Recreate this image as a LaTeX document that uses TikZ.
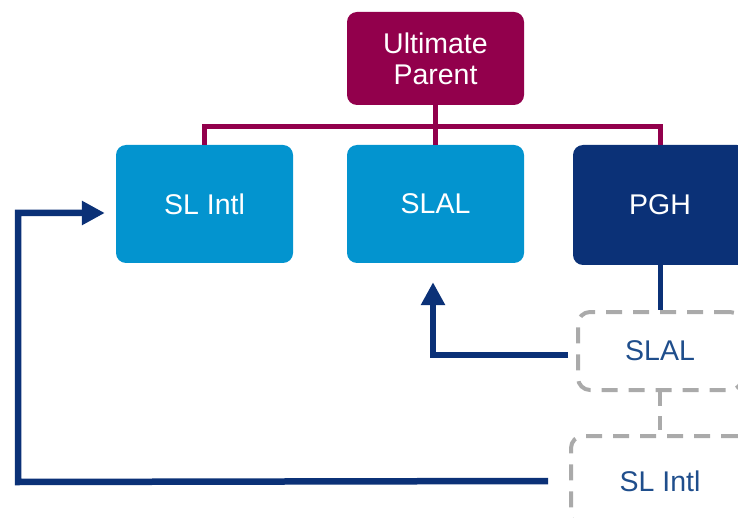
\documentclass[tikz,border=0pt]{standalone}
\usepackage{fontspec}
\setmainfont{Liberation Sans}
\usetikzlibrary{arrows.meta}
\definecolor{parentred}{RGB}{146,0,76}
\definecolor{subblue}{RGB}{3,148,207}
\definecolor{pghblue}{RGB}{11,49,119}
\definecolor{dashgray}{RGB}{170,170,170}
\definecolor{labelblue}{RGB}{31,78,140}

\begin{document}
\begin{tikzpicture}[x=1pt,y=-1pt,
  font=\fontsize{28.5}{31}\selectfont,
  entity/.style={rounded corners=10pt, text=white, align=center, inner sep=0pt},
  ghost/.style={draw=dashgray, line width=4pt, dash pattern=on 16pt off 11pt, rounded corners=12pt, text=labelblue, inner sep=0pt},
  owns/.style={draw=parentred, line width=5pt},
  arr/.style={draw=pghblue, line width=6.5pt, -{Triangle[length=23pt,width=23pt]}}]
\clip (0,0) rectangle (738,518);
\node[entity, fill=parentred, minimum width=177pt, minimum height=93pt](up) at (435.5,58.5){Ultimate\\Parent};
\node[entity, fill=subblue, minimum width=177pt, minimum height=118pt](intl) at (204.5,204){SL Intl};
\node[entity, fill=subblue, minimum width=177pt, minimum height=118pt](slal) at (435.5,204){SLAL};
\node[entity, fill=pghblue, minimum width=174pt, minimum height=120pt](pgh) at (660,205){PGH};
\node[ghost, minimum width=164pt, minimum height=78pt](dslal) at (660,351){SLAL};
\node[ghost, minimum width=178pt, minimum height=90pt](dintl) at (660,481){SL Intl};
\coordinate (bar) at (435.5,127);
\draw[owns] (up.south) -- (bar);
\draw[owns] (intl.north) |- (bar) -| (pgh.north);
\draw[owns] (bar) -- (slal.north);
\draw[draw=pghblue, line width=5pt] (pgh.south) -- (dslal.north);
\draw[draw=dashgray, line width=4pt, dash pattern=on 14pt off 10pt] (dslal.south) -- (dintl.north);
\draw[arr] ([xshift=-8pt,yshift=-4pt]dslal.west) -| ([xshift=-2.5pt,yshift=-19pt]slal.south);
\draw[arr] ([xshift=-21pt]dintl.west) -- (18,482) |- ([xshift=-11pt,yshift=-9pt]intl.west);
\end{tikzpicture}
\end{document}
